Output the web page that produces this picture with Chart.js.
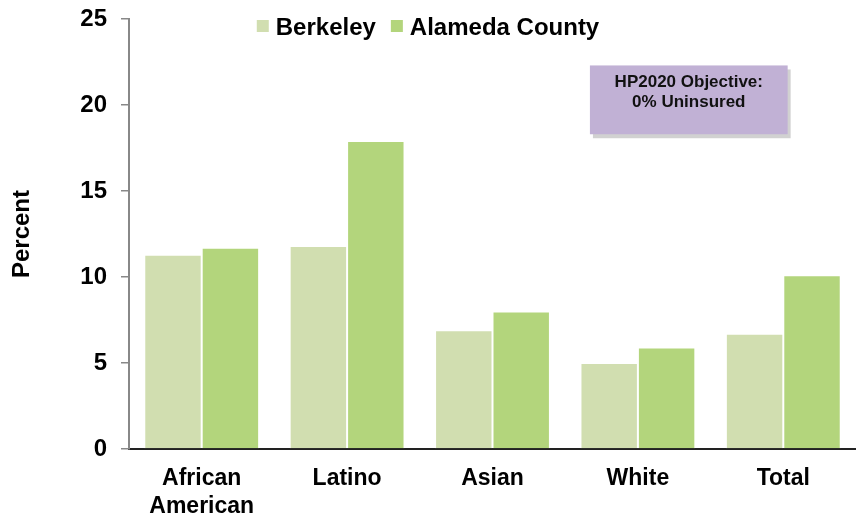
<!DOCTYPE html>
<html>
<head>
<meta charset="utf-8">
<script src="https://cdn.jsdelivr.net/npm/chart.js@4.4.1/dist/chart.umd.min.js"></script>
<style>
  html, body { margin: 0; padding: 0; background: #fff; }
  #wrap { width: 856px; height: 518px; position: relative; }
</style>
</head>
<body>
<div id="wrap"><canvas id="chart"></canvas></div>
<script>
const categories = [["African", "American"], "Latino", "Asian", "White", "Total"];
const berkeley = [11.3, 11.8, 6.9, 5.0, 6.7];
const alameda = [11.7, 17.9, 8.0, 5.9, 10.1];
const seriesNames = ["Berkeley", "Alameda County"];
const yTicks = [0, 5, 10, 15, 20, 25];
const noteLines = ["HP2020 Objective:", "0% Uninsured"];

const barColors = ["#d1deb0", "#b3d57c"];
const FONT = "'Liberation Sans', Arial, sans-serif";

// legend + note box drawn on the canvas, over the plot area
const overlay = {
  id: "overlay",
  afterDraw(chart) {
    const c = chart.ctx;
    c.save();

    // legend
    c.font = "bold 24px " + FONT;
    c.textBaseline = "middle";
    const box = 12, gap = 7, between = 15;
    const items = chart.data.datasets.map(ds => ({
      text: ds.label, color: ds.backgroundColor, w: c.measureText(ds.label).width
    }));
    let total = 0;
    items.forEach((it, i) => { total += box + gap + it.w + (i ? between : 0); });
    let x = chart.width / 2 - total / 2;
    const ly = 28;
    items.forEach((it, i) => {
      if (i) x += between;
      c.fillStyle = it.color;
      c.fillRect(x, ly - 8, box, box);
      x += box + gap;
      c.fillStyle = "#000";
      c.textAlign = "left";
      c.fillText(it.text, x, ly);
      x += it.w;
    });

    // objective note
    const xs = chart.scales.x, ys = chart.scales.y;
    const bx = xs.getPixelForValue(2.67), bw = xs.getPixelForValue(4.03) - bx;
    const by = ys.getPixelForValue(22.3), bh = ys.getPixelForValue(18.3) - by;
    c.fillStyle = "rgba(0,0,0,0.18)";
    c.fillRect(bx + 3, by + 4, bw, bh);
    c.fillStyle = "#c1b1d5";
    c.fillRect(bx, by, bw, bh);
    c.fillStyle = "#111";
    c.font = "bold 17px " + FONT;
    c.textAlign = "center";
    noteLines.forEach((t, i) => c.fillText(t, bx + bw / 2, by + 17 + i * 20));
    c.restore();
  }
};

new Chart(document.getElementById("chart"), {
  type: "bar",
  data: {
    labels: categories,
    datasets: [
      { label: seriesNames[0], data: berkeley, backgroundColor: barColors[0] },
      { label: seriesNames[1], data: alameda, backgroundColor: barColors[1] }
    ]
  },
  options: {
    responsive: true,
    maintainAspectRatio: false,
    animation: false,
    layout: { padding: { top: 19, right: 0, left: 8, bottom: 0 } },
    datasets: {
      bar: {
        categoryPercentage: 0.79,
        barPercentage: 1.0,
        borderWidth: 1,
        borderColor: "#ffffff"
      }
    },
    plugins: {
      legend: { display: false },
      tooltip: { enabled: false }
    },
    scales: {
      x: {
        grid: { display: false },
        border: { color: "#222", width: 2 },
        ticks: {
          color: "#000",
          font: { family: FONT, size: 23, weight: "bold" },
          padding: 8,
          maxRotation: 0
        },
        afterFit(scale) {
          scale.height = 69;
          scale.paddingLeft = 0;
          scale.paddingRight = 0;
        }
      },
      y: {
        min: 0,
        max: 25,
        afterBuildTicks(scale) { scale.ticks = yTicks.map(v => ({ value: v })); },
        grid: { drawOnChartArea: false, color: "#888", tickLength: 8, lineWidth: 1.5 },
        border: { color: "#888", width: 2 },
        ticks: {
          color: "#000",
          font: { family: FONT, size: 24, weight: "bold" },
          padding: 14
        },
        title: {
          display: true,
          text: "Percent",
          color: "#000",
          font: { family: FONT, size: 24, weight: "bold" },
          padding: { top: 0, bottom: 18 }
        },
        afterFit(scale) {
          scale.width = 121;
          scale.paddingTop = 0;
          scale.paddingBottom = 0;
        }
      }
    }
  },
  plugins: [overlay]
});
</script>
</body>
</html>
